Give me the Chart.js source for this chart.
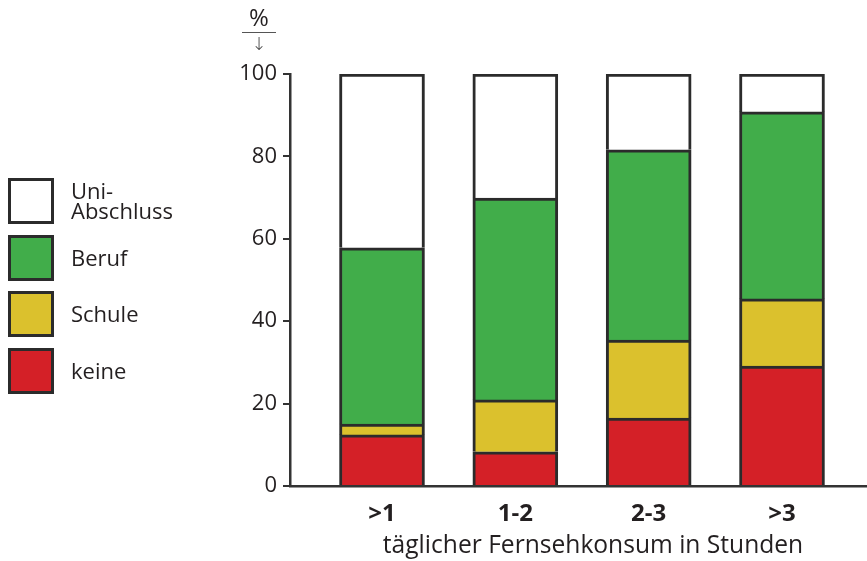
<!DOCTYPE html>
<html>
<head>
<meta charset="utf-8">
<script src="https://cdn.jsdelivr.net/npm/chart.js@4"></script>
<style>
    body { margin: 0; background: #fff; }
    #wrap { position: relative; width: 867px; height: 561px; font-family: 'Open Sans', sans-serif; color: #231f20; }
    #chart { position: absolute; left: 0; top: 0; }
    .legendBox { position: absolute; left: 8px; width: 46px; height: 46px; box-sizing: border-box; border: 3px solid #2b2b2b; }
    .legendText { position: absolute; left: 71px; font-size: 22px; line-height: 20px; white-space: pre-line; }
    #unit { position: absolute; left: 242px; top: 2px; width: 34px; text-align: center; font-size: 24px; line-height: 30px; border-bottom: 1.5px solid #555; }
    #arrow { position: absolute; left: 242px; top: 33px; width: 34px; text-align: center; font-family: 'DejaVu Sans'; font-size: 18px; font-weight: 200; color: #444; }
    #xTitle { position: absolute; left: 343px; width: 500px; top: 531px; text-align: center; font-size: 24.6px; line-height: 26px; white-space: nowrap; }
</style>
</head>
<body>
<div id="wrap">
    <canvas id="chart" width="867" height="561"></canvas>
    <div id="unit">%</div>
    <div id="arrow">↓</div>
    <div id="xTitle">täglicher Fernsehkonsum in Stunden</div>
</div>
<script>
// Categories (daily TV hours) and the shares per education level, in %
const categories = ['>1', '1-2', '2-3', '>3'];
const keine = [12.4, 8.3, 16.5, 29.1];
const schule = [2.6, 12.6, 18.9, 16.3];
const beruf = [42.8, 49.0, 46.2, 45.4];
const uni = [42.2, 30.1, 18.4, 9.2];

const seriesNames = ['keine', 'Schule', 'Beruf', 'Uni-\nAbschluss'];
const seriesColors = ['#d42027', '#dbc12d', '#41ad4a', '#ffffff'];
const yTicks = [0, 20, 40, 60, 80, 100];

const positions = categories.map((c, i) => i);
const allSeries = [keine, schule, beruf, uni];

const datasets = allSeries.map((values, s) => ({
    label: seriesNames[s],
    data: values.map((v, i) => ({ x: positions[i], y: v })),
    backgroundColor: seriesColors[s],
    borderColor: '#2b2b2b',
    borderWidth: 3,
    barThickness: 85
}));

// Legend on the left side, top entry is the top of the stack
const wrap = document.getElementById('wrap');
for (let k = 0; k < seriesNames.length; k++) {
    const s = seriesNames.length - 1 - k;
    const top = 178 + k * 56.5;
    const box = document.createElement('div');
    box.className = 'legendBox';
    box.style.top = top + 'px';
    box.style.background = seriesColors[s];
    wrap.appendChild(box);
    const txt = document.createElement('div');
    txt.className = 'legendText';
    txt.textContent = seriesNames[s];
    const lines = seriesNames[s].split('\n').length;
    txt.style.top = (top + 23 - lines * 10 - 1) + 'px';
    wrap.appendChild(txt);
}

const axisColor = '#333333';

new Chart(document.getElementById('chart'), {
    type: 'bar',
    data: { datasets: datasets },
    options: {
        responsive: false,
        animation: false,
        layout: { padding: { top: 74, right: 1, left: 0, bottom: 0 } },
        plugins: { legend: { display: false }, tooltip: { enabled: false } },
        scales: {
            x: {
                type: 'linear',
                stacked: true,
                offset: false,
                min: -0.69,
                max: 3.63,
                afterBuildTicks: (scale) => { scale.ticks = positions.map(v => ({ value: v })); },
                afterFit: (scale) => { scale.height = 75; },
                grid: { display: false, drawTicks: false },
                border: { display: true, color: axisColor, width: 2.5 },
                ticks: {
                    autoSkip: false,
                    maxRotation: 0,
                    padding: 14,
                    color: '#231f20',
                    font: { family: 'Open Sans', size: 24, weight: 'bold' },
                    callback: (value, index) => categories[index]
                }
            },
            y: {
                stacked: true,
                min: 0,
                max: 100,
                afterBuildTicks: (scale) => { scale.ticks = yTicks.map(v => ({ value: v })); },
                afterFit: (scale) => { scale.width = 290; },
                grid: { drawOnChartArea: false, drawTicks: true, tickLength: 7, color: axisColor, lineWidth: 2 },
                border: { display: true, color: axisColor, width: 2.5 },
                ticks: {
                    padding: 6,
                    color: '#231f20',
                    font: { family: 'Open Sans', size: 22 }
                }
            }
        }
    }
});
</script>
</body>
</html>
